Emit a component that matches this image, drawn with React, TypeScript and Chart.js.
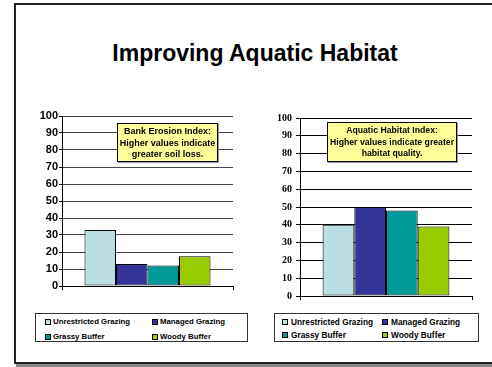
import React, { useEffect, useRef } from "react";
import { Chart, registerables } from "chart.js";

Chart.register(...registerables);

// Series shown in both panels
const seriesNames = ["Unrestricted Grazing", "Managed Grazing", "Grassy Buffer", "Woody Buffer"];
const seriesColors = ["#BADEE2", "#333399", "#009999", "#99CC00"];

// Index values per practice
const erosionValues = [33, 13, 12, 17.5];
const habitatValues = [40, 50, 48, 39];

// Value axis range
const yMin = 0;
const yMax = 100;
const yStep = 10;

// Note boxes
const erosionNote = ["Bank Erosion Index:", "Higher values indicate", "greater soil loss."];
const habitatNote = ["Aquatic Habitat Index:", "Higher values indicate greater", "habitat quality."];

const titleText = "Improving Aquatic Habitat";

const SANS = 'Arial, "Liberation Sans", Helvetica, sans-serif';
const SERIF = '"Times New Roman", "Liberation Serif", serif';

type PanelProps = {
  values: number[];
  left: number;
  top: number;
  width: number;
  height: number;
  axisWidth: number;
  axisHeight: number;
  tickFont: { family: string; size: number; weight: string };
  tickPadding: number;
  tickLength: number;
  gridColor: string;
};

function BarPanel(p: PanelProps) {
  const ref = useRef<HTMLCanvasElement | null>(null);

  useEffect(() => {
    if (!ref.current) return;
    const chart = new Chart(ref.current, {
      type: "bar",
      data: {
        labels: [""],
        datasets: seriesNames.map((name, i) => ({
          label: name,
          data: [p.values[i]],
          backgroundColor: seriesColors[i],
          borderColor: "#000",
          borderWidth: 1,
          borderSkipped: false,
          categoryPercentage: 0.737,
          barPercentage: 1,
        })),
      },
      options: {
        responsive: false,
        animation: false,
        devicePixelRatio: 1,
        layout: { padding: { top: 8, right: 3, left: 0, bottom: 0 } },
        plugins: { legend: { display: false }, tooltip: { enabled: false } },
        scales: {
          x: {
            offset: true,
            grid: {
              display: true,
              offset: true,
              drawOnChartArea: false,
              drawTicks: true,
              tickLength: 4,
              color: "#000",
            },
            border: { display: true, color: "#000", width: 1 },
            ticks: { display: false },
            afterFit: (s: any) => {
              s.height = p.axisHeight;
            },
          },
          y: {
            min: yMin,
            max: yMax,
            ticks: {
              stepSize: yStep,
              color: "#000",
              font: p.tickFont as any,
              padding: p.tickPadding,
            },
            grid: {
              color: p.gridColor,
              lineWidth: 1,
              tickLength: p.tickLength,
              tickColor: "#000",
            },
            border: { display: true, color: "#000", width: 1 },
            afterFit: (s: any) => {
              s.width = p.axisWidth;
            },
          },
        },
      },
    });
    return () => chart.destroy();
  }, []);

  return (
    <canvas
      ref={ref}
      width={p.width}
      height={p.height}
      style={{ position: "absolute", left: p.left, top: p.top, width: p.width, height: p.height }}
    />
  );
}

function NoteBox(props: {
  lines: string[];
  left: number;
  top: number;
  width: number;
  height: number;
  fontSize: number;
  lineHeight: number;
}) {
  return (
    <div
      style={{
        position: "absolute",
        left: props.left,
        top: props.top,
        width: props.width,
        height: props.height,
        boxSizing: "border-box",
        background: "#FFFF99",
        border: "1px solid #000",
        boxShadow: "1px 1px 0 #999",
        fontFamily: SANS,
        fontWeight: "bold",
        fontSize: props.fontSize,
        lineHeight: props.lineHeight + "px",
        textAlign: "center",
        color: "#000",
        paddingTop: 2,
        whiteSpace: "nowrap",
      }}
    >
      {props.lines.map((l, i) => (
        <div key={i}>{l}</div>
      ))}
    </div>
  );
}

function LegendBox(props: {
  left: number;
  top: number;
  width: number;
  height: number;
  fontSize: number;
  colLeft: number[];
  rowTop: number[];
  gap: number;
}) {
  return (
    <div
      style={{
        position: "absolute",
        left: props.left,
        top: props.top,
        width: props.width,
        height: props.height,
        boxSizing: "border-box",
        border: "1px solid #333",
        background: "#fff",
      }}
    >
      {seriesNames.map((name, i) => {
        const col = i % 2;
        const row = Math.floor(i / 2);
        return (
          <div
            key={name}
            style={{
              position: "absolute",
              left: props.colLeft[col],
              top: props.rowTop[row],
              display: "flex",
              alignItems: "center",
              fontFamily: SANS,
              fontWeight: "bold",
              fontSize: props.fontSize,
              lineHeight: "10px",
              whiteSpace: "nowrap",
              color: "#000",
            }}
          >
            <span
              style={{
                display: "inline-block",
                width: 6,
                height: 6,
                boxSizing: "border-box",
                border: "1px solid #000",
                background: seriesColors[i],
                marginRight: props.gap,
              }}
            />
            {name}
          </div>
        );
      })}
    </div>
  );
}

export default function App() {
  return (
    <div
      style={{
        position: "fixed",
        left: 0,
        top: 0,
        width: 492,
        height: 367,
        overflow: "hidden",
        background: "#fff",
      }}
    >
      <div
        style={{
          position: "absolute",
          left: 14,
          top: 3,
          width: 492,
          height: 361,
          boxSizing: "border-box",
          border: "2px solid #222",
          boxShadow: "2px 4px 0 #888",
          background: "#fff",
        }}
      />
      <div
        style={{
          position: "absolute",
          left: 14,
          width: 482,
          top: 38,
          textAlign: "center",
          fontFamily: SANS,
          fontWeight: "bold",
          fontSize: 23,
          lineHeight: "30px",
          color: "#000",
        }}
      >
        {titleText}
      </div>

      <BarPanel
        values={erosionValues}
        left={22}
        top={108}
        width={214}
        height={188}
        axisWidth={40}
        axisHeight={10}
        tickFont={{ family: SANS, size: 11, weight: "bold" }}
        tickPadding={1}
        tickLength={3}
        gridColor="#444"
      />
      <BarPanel
        values={habitatValues}
        left={265}
        top={108}
        width={210}
        height={198}
        axisWidth={35}
        axisHeight={10}
        tickFont={{ family: SERIF, size: 10, weight: "bold" }}
        tickPadding={4}
        tickLength={4}
        gridColor="#000"
      />

      <NoteBox lines={erosionNote} left={117} top={123} width={101} height={39} fontSize={9} lineHeight={11.5} />
      <NoteBox lines={habitatNote} left={327} top={122} width={130} height={40} fontSize={8.7} lineHeight={11.5} />

      <LegendBox
        left={35}
        top={313}
        width={213}
        height={29}
        fontSize={7.8}
        colLeft={[9, 116]}
        rowTop={[3, 18]}
        gap={2}
      />
      <LegendBox
        left={274}
        top={313}
        width={205}
        height={29}
        fontSize={8.3}
        colLeft={[7, 107]}
        rowTop={[3, 16]}
        gap={3}
      />
    </div>
  );
}
